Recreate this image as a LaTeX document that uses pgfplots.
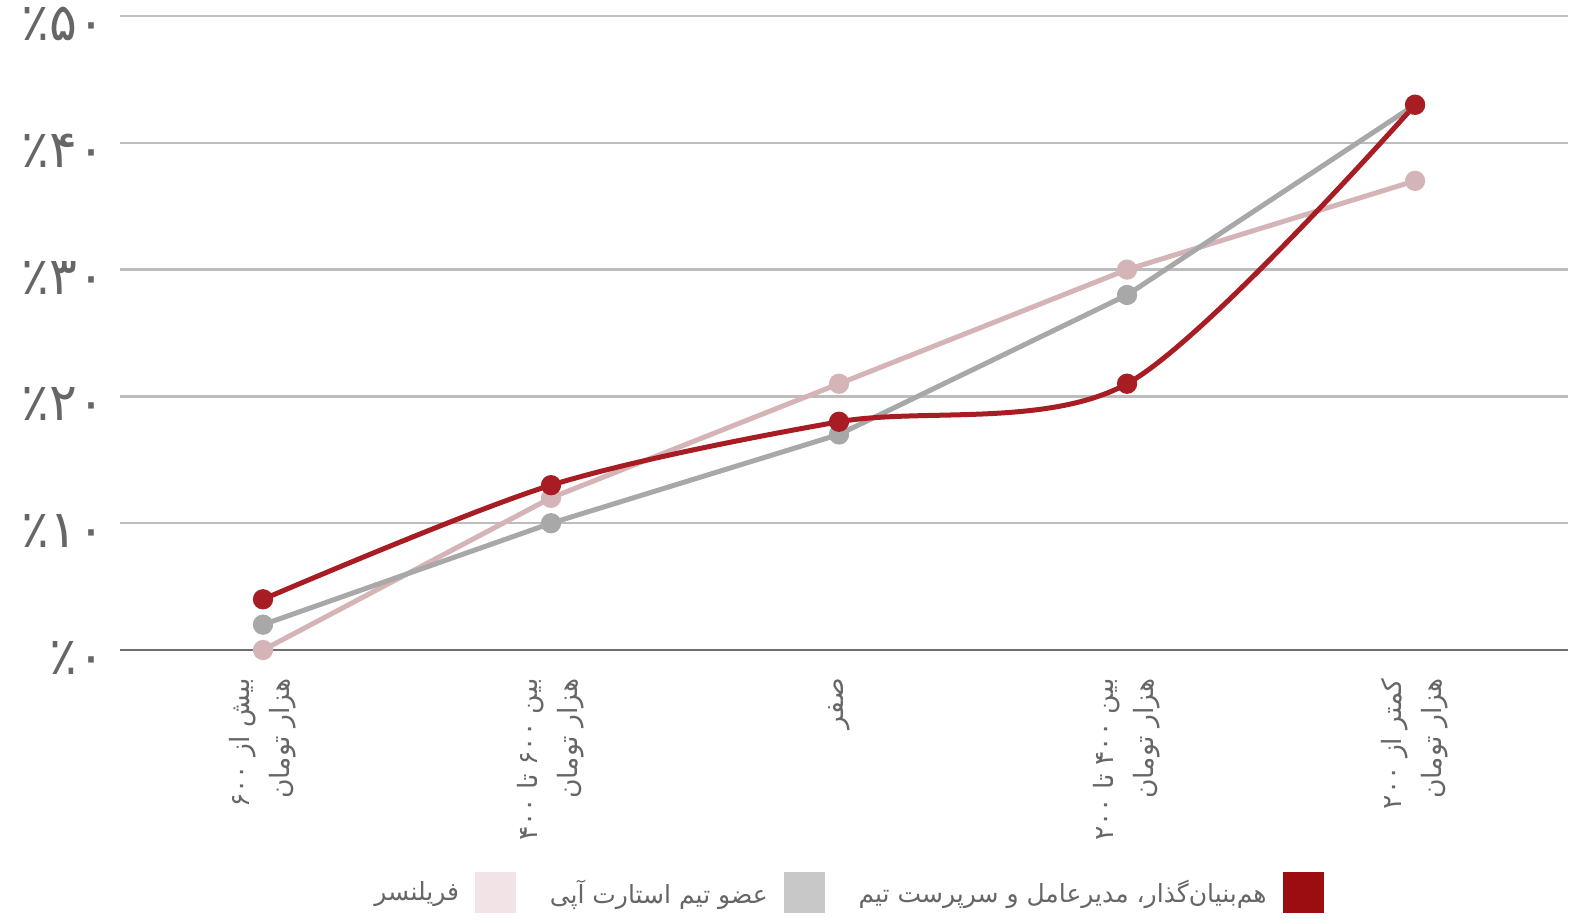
\documentclass[border=0pt]{standalone}
\usepackage{fontspec}
\usepackage{pgfplots}
\pgfplotsset{compat=1.18}
\TeXXeTstate=1
\newfontfamily\arabicfont[Script=Arabic]{DejaVu Sans}
\newfontfamily\digitfont{DejaVu Sans}

\definecolor{cred}{HTML}{A81C24}
\definecolor{cgray}{HTML}{A8A8A8}
\definecolor{cpink}{HTML}{D4B4B6}
\definecolor{lred}{HTML}{9B0D0F}
\definecolor{lgray}{HTML}{C8C8C8}
\definecolor{lpink}{HTML}{F2E3E6}
\definecolor{gridc}{HTML}{BDBDBD}
\definecolor{zeroc}{HTML}{6E6E6E}
\definecolor{labc}{HTML}{666666}

\begin{document}
\begin{tikzpicture}
\begin{axis}[
    scale only axis, width=724pt, height=317pt,
    xmin=-0.4965, xmax=4.531, ymin=0, ymax=50,
    clip=false,
    axis line style={draw=none},
    major tick length=0pt,
    ymajorgrids,
    grid style={color=gridc, line width=1.2pt},
    ytick={10,20,30,40,50},
    yticklabels={٪۱۰,٪۲۰,٪۳۰,٪۴۰,٪۵۰},
    extra y ticks={0},
    extra y tick labels={٪۰},
    extra y tick style={grid style={color=zeroc, line width=1.4pt}},
    yticklabel style={font=\digitfont\fontsize{26}{30}\selectfont, text=labc,
        anchor=east, inner sep=0pt, xshift=-7pt, yshift=-4pt},
    xtick={0,1,2,3,4},
    xticklabels={
        {\beginR بیش از \beginL۶۰۰\endL\endR\\\beginR هزار تومان\endR},
        {\beginR بین \beginL۶۰۰\endL{} تا \beginL۴۰۰\endL\endR\\\beginR هزار تومان\endR},
        {\beginR صفر\endR},
        {\beginR بین \beginL۴۰۰\endL{} تا \beginL۲۰۰\endL\endR\\\beginR هزار تومان\endR},
        {\beginR کمتر از \beginL۲۰۰\endL\endR\\\beginR هزار تومان\endR}},
    xticklabel style={font=\arabicfont\fontsize{13.3}{20}\selectfont, text=labc,
        yshift=-14pt, rotate=90, anchor=east, align=right, inner sep=0pt},
    legend plot pos=right,
    legend style={at={(0.502,-0.383)}, anchor=center, draw=none, fill=none,
        legend columns=3, font=\arabicfont\fontsize{12.5}{16}\selectfont, text=labc,
        /tikz/every odd column/.append style={column sep=6pt},
        /tikz/every even column/.append style={column sep=15pt}},
]
% freelancer
\addplot[forget plot, color=cpink, line width=2.5pt, mark=*, mark size=3.8pt,
    mark options={fill=cpink, draw=cpink}]
    coordinates {(0,0) (1,12) (2,21) (3,30) (4,37)};
% startup team member
\addplot[forget plot, color=cgray, line width=2.5pt, mark=*, mark size=3.8pt,
    mark options={fill=cgray, draw=cgray}]
    coordinates {(0,2) (1,10) (2,17) (3,28) (4,43)};
% co-founder / CEO / team lead
\addplot[forget plot, color=cred, line width=2.5pt, smooth, mark=*, mark size=3.8pt,
    mark options={fill=cred, draw=cred}]
    coordinates {(0,4) (1,13) (2,18) (3,21) (4,43)};

\addlegendimage{legend image code/.code={\fill[lpink] (0pt,-10pt) rectangle (20pt,10pt);}}
\addlegendentry{\beginR فریلنسر\endR}
\addlegendimage{legend image code/.code={\fill[lgray] (0pt,-10pt) rectangle (20pt,10pt);}}
\addlegendentry{\beginR عضو تیم استارت آپی\endR}
\addlegendimage{legend image code/.code={\fill[lred] (0pt,-10pt) rectangle (20pt,10pt);}}
\addlegendentry{\beginR هم‌بنیان‌گذار، مدیرعامل و سرپرست تیم\endR}

\coordinate (sw) at (rel axis cs:0,0);
\end{axis}
\pgfresetboundingbox
\path ([shift={(-60pt,-136.5pt)}]sw) rectangle ([shift={(726.5pt,325pt)}]sw);
\end{tikzpicture}
\end{document}
